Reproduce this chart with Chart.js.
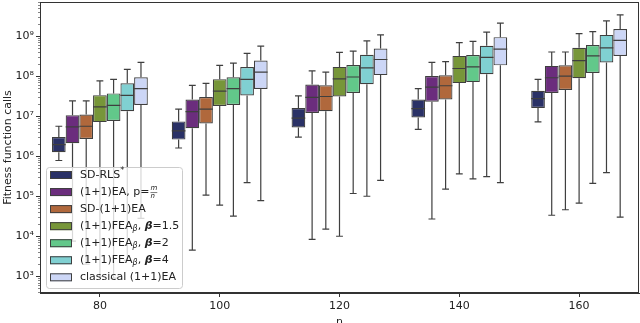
<!DOCTYPE html>
<html lang="en">
  <head>
    <meta charset="UTF-8" />
    <meta name="viewport" content="width=device-width, initial-scale=1.0" />
    <title>Fitness function calls</title>
    <script src="https://cdn.jsdelivr.net/npm/chart.js"></script>
    <style>
      html, body { margin: 0; padding: 0; overflow: hidden; background: #fff; }
    </style>
  </head>
  <body>
    <canvas id="myChart" width="640" height="330"></canvas>
    <script>
      // x categories (n) and y ticks (powers of ten)
      const nValues = ["80", "100", "120", "140", "160"];
      const yTickExps = [3, 4, 5, 6, 7, 8, 9];
      const yMin = 383;
      const yMax = 7.1e9;

      // each box: [min, q1, median, q3, max], one per n
      const sdRls = [
        [7.8e5, 1.26e6, 1.95e6, 3.0e6, 5.6e6],
        [1.6e6, 2.6e6, 4.3e6, 7.4e6, 1.5e7],
        [3.0e6, 5.2e6, 8.9e6, 1.6e7, 3.2e7],
        [4.7e6, 9.3e6, 1.55e7, 2.6e7, 4.9e7],
        [7.2e6, 1.6e7, 2.75e7, 4.3e7, 8.3e7],
      ];
      const ea = [
        [7.6e3, 2.1e6, 5.4e6, 1.06e7, 2.4e7],
        [4.5e3, 5.0e6, 1.3e7, 2.6e7, 5.9e7],
        [8.4e3, 1.2e7, 2.95e7, 6.2e7, 1.35e8],
        [2.7e4, 2.3e7, 5.3e7, 1.0e8, 2.2e8],
        [3.35e4, 3.8e7, 9.1e7, 1.8e8, 4.0e8],
      ];
      const sdEa = [
        [2.0e3, 2.7e6, 5.6e6, 1.1e7, 2.4e7],
        [1.07e5, 6.6e6, 1.5e7, 3.0e7, 6.6e7],
        [1.5e4, 1.33e7, 3.1e7, 5.9e7, 1.26e8],
        [1.5e5, 2.6e7, 5.75e7, 1.05e8, 2.3e8],
        [4.6e4, 4.5e7, 1.0e8, 1.86e8, 4.0e8],
      ];
      const fea15 = [
        [1.0e3, 7.1e6, 1.7e7, 3.35e7, 7.6e7],
        [6.0e4, 1.8e7, 4.2e7, 8.4e7, 1.86e8],
        [1.0e4, 3.1e7, 8.5e7, 1.7e8, 3.9e8],
        [3.6e5, 6.7e7, 1.55e8, 3.2e8, 6.9e8],
        [6.7e4, 8.9e7, 2.45e8, 5.1e8, 1.15e9],
      ];
      const fea2 = [
        [9.0e2, 7.6e6, 1.86e7, 3.7e7, 8.3e7],
        [3.2e4, 1.9e7, 4.9e7, 9.4e7, 2.1e8],
        [1.17e5, 3.8e7, 9.5e7, 1.9e8, 4.2e8],
        [2.7e5, 7.1e7, 1.7e8, 3.35e8, 7.4e8],
        [2.1e5, 1.2e8, 3.2e8, 6.0e8, 1.29e9],
      ];
      const fea4 = [
        [2.5e3, 1.33e7, 3.3e7, 6.6e7, 1.48e8],
        [2.2e5, 3.3e7, 8.3e7, 1.68e8, 3.7e8],
        [1.0e5, 6.3e7, 1.6e8, 3.4e8, 7.6e8],
        [3.1e5, 1.12e8, 2.95e8, 5.75e8, 1.26e9],
        [3.9e5, 2.2e8, 5.1e8, 1.07e9, 2.4e9],
      ];
      const classicEa = [
        [2.8e4, 1.9e7, 4.9e7, 9.4e7, 2.2e8],
        [7.8e4, 4.8e7, 1.26e8, 2.45e8, 5.6e8],
        [2.5e5, 1.06e8, 2.6e8, 4.9e8, 1.07e9],
        [2.2e5, 1.86e8, 4.7e8, 9.4e8, 2.1e9],
        [3.0e4, 3.2e8, 7.8e8, 1.5e9, 3.4e9],
      ];

      const seriesBoxes = [sdRls, ea, sdEa, fea15, fea2, fea4, classicEa];
      const seriesLabels = [
        "SD-RLS*",
        "(1+1)EA, p=m/n",
        "SD-(1+1)EA",
        "(1+1)FEAβ, β=1.5",
        "(1+1)FEAβ, β=2",
        "(1+1)FEAβ, β=4",
        "classical (1+1)EA",
      ];
      const seriesColors = ["#2a3166", "#6b2d7d", "#b0683c", "#779639", "#62c88a", "#80d0d2", "#ccd6f6"];

      const fam = '"DejaVu Sans", sans-serif';
      const lineColor = "#3f3f3f";
      const sup = { 3: "³", 4: "⁴", 5: "⁵", 6: "⁶", 7: "⁷", 8: "⁸", 9: "⁹" };

      // legend texts with sub/superscripts, drawn piece by piece
      const b = { t: "β", style: "italic", small: true, dy: 2.5 };
      const beta = { t: "β", style: "italic bold" };
      const legendRich = [
        [{ t: "SD-RLS" }, { t: "*", small: true, dy: -4 }],
        [{ t: "(1+1)EA, p=" }, { frac: ["m", "n"] }],
        [{ t: "SD-(1+1)EA" }],
        [{ t: "(1+1)FEA" }, b, { t: ", " }, beta, { t: "=1.5" }],
        [{ t: "(1+1)FEA" }, b, { t: ", " }, beta, { t: "=2" }],
        [{ t: "(1+1)FEA" }, b, { t: ", " }, beta, { t: "=4" }],
        [{ t: "classical (1+1)EA" }],
      ];

      function drawRich(ctx, segs, x, y) {
        ctx.textBaseline = "middle";
        ctx.textAlign = "left";
        ctx.fillStyle = "#222";
        segs.forEach((s) => {
          if (s.frac) {
            ctx.font = `italic 7px ${fam}`;
            const w = Math.max(ctx.measureText(s.frac[0]).width, ctx.measureText(s.frac[1]).width);
            ctx.fillText(s.frac[0], x + 1, y - 3.5);
            ctx.fillText(s.frac[1], x + 1, y + 4);
            ctx.strokeStyle = "#222";
            ctx.lineWidth = 0.6;
            ctx.beginPath();
            ctx.moveTo(x + 1, y + 0.5);
            ctx.lineTo(x + 1 + w, y + 0.5);
            ctx.stroke();
            x += w + 2;
            return;
          }
          const size = s.small ? 8 : 11;
          ctx.font = `${s.style || ""} ${size}px ${fam}`;
          ctx.fillText(s.t, x, y + (s.dy || 0));
          x += ctx.measureText(s.t).width;
        });
      }

      const boxPlugin = {
        id: "boxParts",
        afterDatasetsDraw(chart) {
          const ctx = chart.ctx;
          const y = chart.scales.y;
          ctx.save();
          chart.data.datasets.forEach((ds, di) => {
            const meta = chart.getDatasetMeta(di);
            meta.data.forEach((el, i) => {
              const [lo, q1, med, q3, hi] = seriesBoxes[di][i];
              const x = el.x;
              const cap = el.width / 4;
              const yLo = y.getPixelForValue(lo);
              const yQ1 = y.getPixelForValue(q1);
              const yMed = y.getPixelForValue(med);
              const yQ3 = y.getPixelForValue(q3);
              const yHi = y.getPixelForValue(hi);
              ctx.strokeStyle = lineColor;
              ctx.lineWidth = 1.2;
              ctx.beginPath();
              ctx.moveTo(x, yQ3);
              ctx.lineTo(x, yHi);
              ctx.moveTo(x - cap, yHi);
              ctx.lineTo(x + cap, yHi);
              ctx.moveTo(x, yQ1);
              ctx.lineTo(x, yLo);
              ctx.moveTo(x - cap, yLo);
              ctx.lineTo(x + cap, yLo);
              ctx.moveTo(x - el.width / 2, yMed);
              ctx.lineTo(x + el.width / 2, yMed);
              ctx.stroke();
            });
          });
          ctx.restore();
        },
        afterDraw(chart) {
          const ctx = chart.ctx;
          const a = chart.chartArea;
          const y = chart.scales.y;
          ctx.save();
          // minor log ticks
          ctx.strokeStyle = "#333";
          ctx.lineWidth = 0.6;
          ctx.beginPath();
          for (let e = 2; e <= 9; e++) {
            for (let m = 2; m <= 9; m++) {
              const v = m * Math.pow(10, e);
              if (v < yMin || v > yMax) continue;
              const py = Math.round(y.getPixelForValue(v)) + 0.5;
              ctx.moveTo(a.left, py);
              ctx.lineTo(a.left - 2, py);
            }
          }
          ctx.stroke();
          // frame
          ctx.strokeStyle = "#333";
          ctx.lineWidth = 1;
          ctx.strokeRect(a.left + 0.5, a.top + 0.5, a.right - a.left - 1, a.bottom - a.top - 1);
          // legend
          const lx = 46, ly = 167, lw = 136, lh = 121;
          ctx.fillStyle = "rgba(255,255,255,0.8)";
          ctx.strokeStyle = "#cccccc";
          ctx.lineWidth = 1;
          ctx.beginPath();
          ctx.roundRect(lx + 0.5, ly + 0.5, lw, lh, 3);
          ctx.fill();
          ctx.stroke();
          legendRich.forEach((segs, i) => {
            const ry = 175 + i * 17.05;
            ctx.fillStyle = seriesColors[i];
            ctx.fillRect(50, ry - 4, 22, 8);
            ctx.strokeStyle = lineColor;
            ctx.lineWidth = 1;
            ctx.strokeRect(50.5, ry - 3.5, 21, 7);
            drawRich(ctx, segs, 80, ry);
          });
          ctx.restore();
        },
      };

      function drawChart() {
        const ctx = document.getElementById("myChart");
        const datasets = seriesBoxes.map((boxes, i) => ({
          label: seriesLabels[i],
          data: boxes.map((bx) => [bx[1], bx[3]]),
          backgroundColor: seriesColors[i],
          borderColor: lineColor,
          borderWidth: 1.2,
          borderSkipped: false,
          categoryPercentage: 0.8,
          barPercentage: 1.0,
        }));
        new Chart(ctx, {
          type: "bar",
          data: { labels: nValues, datasets: datasets },
          options: {
            responsive: false,
            animation: false,
            devicePixelRatio: 1,
            layout: { padding: { top: 2, right: 1, left: 0, bottom: 0 } },
            plugins: { legend: { display: false }, tooltip: { enabled: false } },
            scales: {
              x: {
                afterFit: (s) => {
                  s.height = 37;
                  s.paddingLeft = 0;
                  s.paddingRight = 0;
                },
                grid: { display: true, offset: false, drawOnChartArea: false, tickLength: 4, color: "#333" },
                border: { display: true, color: "#333", width: 1 },
                ticks: { color: "#222", font: { family: fam, size: 11 }, padding: 3 },
                title: { display: true, text: "n", color: "#222", font: { family: fam, size: 11 }, padding: { top: 0, bottom: 1 } },
              },
              y: {
                type: "logarithmic",
                min: yMin,
                max: yMax,
                afterFit: (s) => {
                  s.width = 40;
                  s.paddingTop = 0;
                  s.paddingBottom = 0;
                },
                afterBuildTicks: (s) => {
                  s.ticks = yTickExps.map((e) => ({ value: Math.pow(10, e) }));
                },
                grid: { display: true, drawOnChartArea: false, tickLength: 4, color: "#333" },
                border: { display: true, color: "#333", width: 1 },
                ticks: {
                  color: "#222",
                  font: { family: fam, size: 11 },
                  padding: 2,
                  callback: (v) => "10" + sup[Math.round(Math.log10(v))],
                },
                title: { display: true, text: "Fitness function calls", color: "#222", font: { family: fam, size: 11 }, padding: { top: 2, bottom: 2 } },
              },
            },
          },
          plugins: [boxPlugin],
        });
      }
      drawChart();
    </script>
  </body>
</html>
